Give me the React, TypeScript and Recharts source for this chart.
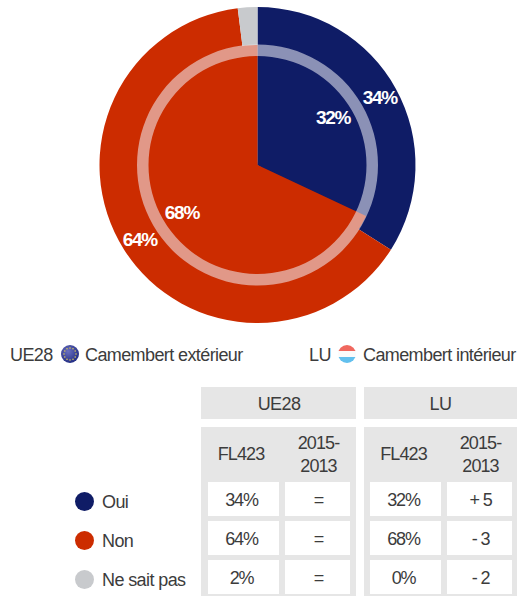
import { Pie, PieChart } from 'recharts';

const categories = ['Oui', 'Non', 'Ne sait pas'];
const ue28Values = [34, 64, 2];
const luValues = [32, 68, 0];
const ue28Trend = ['=', '=', '='];
const luTrend = ['+ 5', '- 3', '- 2'];
const sliceColors = ['#0f1c66', '#cc2c00', '#c8cacd'];

const FONT = '"Liberation Sans", Arial, sans-serif';
const TEXT = '#3c3c3c';
const PANEL = '#e6e6e6';
const CX = 257.5;
const CY = 165;
const RADIAN = Math.PI / 180;

const toSlices = (values: number[]) =>
  values.map((value, i) => ({ name: categories[i], value, fill: sliceColors[i] }));

const percentLabel = (labelRadius: number) => (props: any) => {
  if (!props.value || props.value < 5) return null;
  const x = props.cx + labelRadius * Math.cos(-props.midAngle * RADIAN);
  const y = props.cy + labelRadius * Math.sin(-props.midAngle * RADIAN);
  return (
    <text
      x={x}
      y={y}
      fill="#fff"
      textAnchor="middle"
      dominantBaseline="central"
      style={{ fontFamily: FONT, fontSize: 19, fontWeight: 700, letterSpacing: -1.3 }}
    >
      {props.value}%
    </text>
  );
};

function Box({ x, y, w, h, bg, children, dx = 0, dy = 0, spacing = -0.6 }: any) {
  return (
    <div
      style={{
        position: 'absolute', left: x, top: y, width: w, height: h, background: bg,
        display: 'flex', alignItems: 'center', justifyContent: 'center', textAlign: 'center',
        fontSize: 18, lineHeight: '23px', letterSpacing: spacing, color: TEXT,
      }}
    >
      <span style={{ position: 'relative', left: dx, top: dy }}>{children}</span>
    </div>
  );
}

function Label({ x, y, children }: any) {
  return (
    <div
      style={{
        position: 'absolute', left: x, top: y - 12, height: 24, lineHeight: '24px',
        fontSize: 18, letterSpacing: -0.6, color: TEXT, whiteSpace: 'nowrap',
      }}
    >
      {children}
    </div>
  );
}

const EU_STARS = [0, 30, 60, 90, 120, 150, 180, 210, 240, 270, 300, 330];

function EuFlag({ x, y }: { x: number; y: number }) {
  return (
    <svg style={{ position: 'absolute', left: x - 10, top: y - 10 }} width={20} height={20}>
      <defs>
        <radialGradient id="euGrad" cx="40%" cy="35%" r="70%">
          <stop offset="0%" stopColor="#6a70c0" />
          <stop offset="100%" stopColor="#1f2a80" />
        </radialGradient>
      </defs>
      <circle cx={10} cy={10} r={9} fill="url(#euGrad)" />
      {EU_STARS.map((a) => (
        <circle
          key={a}
          cx={10 + 6 * Math.cos(a * RADIAN)}
          cy={10 + 6 * Math.sin(a * RADIAN)}
          r={0.8}
          fill="#d9c75a"
        />
      ))}
    </svg>
  );
}

function LuFlag({ x, y }: { x: number; y: number }) {
  return (
    <svg style={{ position: 'absolute', left: x - 10, top: y - 10 }} width={20} height={20}>
      <defs>
        <clipPath id="luClip">
          <circle cx={10} cy={10} r={9} />
        </clipPath>
      </defs>
      <g clipPath="url(#luClip)">
        <rect x={0} y={0} width={20} height={7} fill="#f0685f" />
        <rect x={0} y={7} width={20} height={6} fill="#fbfbfb" />
        <rect x={0} y={13} width={20} height={7} fill="#62c0ee" />
      </g>
    </svg>
  );
}

const rowTops = [482, 521, 560];
const ROW_H = 34;

export default function App() {
  return (
    <div
      style={{
        position: 'absolute', left: 0, top: 0, width: 517, height: 596,
        overflow: 'hidden', background: '#fff', fontFamily: FONT,
      }}
    >
      <PieChart width={517} height={330} margin={{ top: 0, right: 0, bottom: 0, left: 0 }}>
        <Pie
          data={toSlices(ue28Values)}
          dataKey="value"
          cx={CX}
          cy={CY}
          innerRadius={0}
          outerRadius={158}
          startAngle={90}
          endAngle={-270}
          stroke="none"
          labelLine={false}
          label={percentLabel(139.5)}
          isAnimationActive={false}
        />
        <Pie
          data={toSlices(luValues)}
          dataKey="value"
          cx={CX}
          cy={CY}
          innerRadius={0}
          outerRadius={120}
          startAngle={90}
          endAngle={-270}
          stroke="none"
          labelLine={false}
          label={percentLabel(89.5)}
          isAnimationActive={false}
        />
        <Pie
          data={[{ name: 'LU', value: 1 }]}
          dataKey="value"
          cx={CX}
          cy={CY}
          innerRadius={109}
          outerRadius={120.5}
          startAngle={90}
          endAngle={-270}
          stroke="none"
          fill="#f2f2f8"
          fillOpacity={0.55}
          isAnimationActive={false}
        />
      </PieChart>

      <Label x={10} y={355}>UE28</Label>
      <EuFlag x={70} y={354} />
      <Label x={85} y={355}>Camembert extérieur</Label>
      <Label x={309} y={355}>LU</Label>
      <LuFlag x={347} y={354} />
      <Label x={363} y={355}>Camembert intérieur</Label>

      <Box x={201} y={387} w={155} h={32} bg={PANEL} dy={1} dx={0.5}>UE28</Box>
      <Box x={364} y={387} w={153} h={32} bg={PANEL} dy={1}>LU</Box>
      <div style={{ position: 'absolute', left: 201, top: 427, width: 155, height: 169, background: PANEL }} />
      <div style={{ position: 'absolute', left: 364, top: 427, width: 153, height: 169, background: PANEL }} />

      <Box x={208} y={431} w={71} h={46} bg="transparent" dx={-2.5} spacing={-0.9}>FL423</Box>
      <Box x={285} y={431} w={65} h={46} bg="transparent" dx={1} dy={1} spacing={-0.9}>2015-<br />2013</Box>
      <Box x={370} y={431} w={71} h={46} bg="transparent" dx={-2} spacing={-0.9}>FL423</Box>
      <Box x={447} y={431} w={65} h={46} bg="transparent" dx={1} dy={1} spacing={-0.9}>2015-<br />2013</Box>

      {categories.map((name, i) => (
        <div key={name}>
          <div
            style={{
              position: 'absolute', left: 75, top: rowTops[i] + 9.5, width: 19, height: 19,
              borderRadius: '50%', background: sliceColors[i],
            }}
          />
          <Label x={102} y={rowTops[i] + 19.5}>{name}</Label>
          <Box x={208} y={rowTops[i]} w={71} h={ROW_H} bg="#fff" dx={-2} dy={1.5} spacing={-1.2}>{ue28Values[i]}%</Box>
          <Box x={285} y={rowTops[i]} w={65} h={ROW_H} bg="#fff" dx={1} dy={1.5} spacing={-1.2}>{ue28Trend[i]}</Box>
          <Box x={370} y={rowTops[i]} w={71} h={ROW_H} bg="#fff" dx={-2} dy={1.5} spacing={-1.2}>{luValues[i]}%</Box>
          <Box x={447} y={rowTops[i]} w={65} h={ROW_H} bg="#fff" dx={1} dy={1.5} spacing={-1.2}>{luTrend[i]}</Box>
        </div>
      ))}
    </div>
  );
}
